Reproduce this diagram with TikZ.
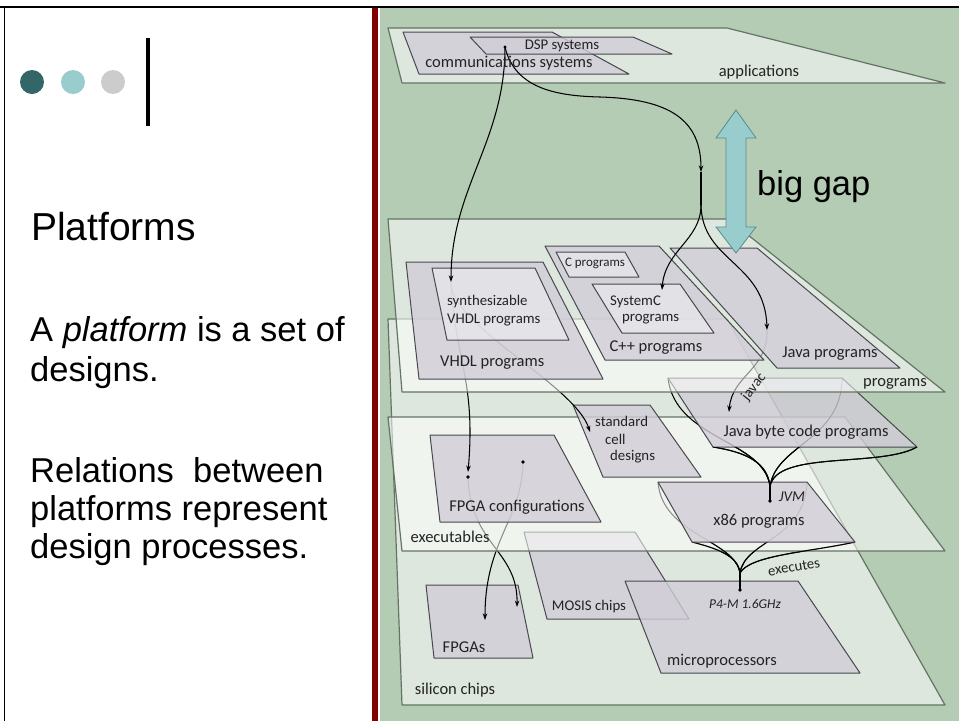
\documentclass[tikz,border=0pt]{standalone}
\usepackage{fontspec}
\setmainfont{Liberation Sans}
\newfontfamily\diagfont{Carlito}
\usetikzlibrary{arrows.meta}

\definecolor{sage}{RGB}{180,203,180}
\definecolor{planeedge}{RGB}{100,116,100}
\definecolor{boxfill}{RGB}{209,205,215}
\definecolor{boxedge}{RGB}{72,72,78}
\definecolor{gapfill}{RGB}{153,204,204}
\definecolor{gapedge}{RGB}{90,140,140}
\definecolor{darkred}{RGB}{128,0,0}
\definecolor{dotA}{RGB}{51,102,102}
\definecolor{dotB}{RGB}{153,204,204}
\definecolor{dotC}{RGB}{204,204,204}
\definecolor{labelgray}{RGB}{35,35,35}

\tikzset{
  plane/.style={fill=white, fill opacity=0.55, draw=planeedge, line width=1.2pt, line join=round},
  platebox/.style={fill=boxfill, fill opacity=0.8, draw=boxedge, line width=1pt, line join=round},
  innerbox/.style={fill=white, fill opacity=0.35, draw=boxedge, line width=1pt, line join=round},
  wire/.style={draw=black, line width=1.05pt},
  wirearrow/.style={wire, -{Stealth[length=6.5pt,width=4.5pt]}},
  knot/.style={circle, fill=black, inner sep=0pt, minimum size=3.8pt},
  bullet/.style={circle, inner sep=0pt, minimum size=24pt},
  lbl/.style={font=\diagfont\fontsize{16.5}{19}\selectfont, text=labelgray, inner sep=0pt},
  lbls/.style={font=\diagfont\fontsize{14.8}{17}\selectfont, text=labelgray, inner sep=0pt},
  lblxs/.style={font=\diagfont\fontsize{13}{15}\selectfont, text=labelgray, inner sep=0pt},
  body/.style={anchor=base west, inner sep=0pt, font=\fontsize{34.5}{40}\selectfont},
}

% curves from the byte code box down to the JVM point
\newcommand\jvmpaths{%
  \draw[wire] (bcTL) .. controls (675,440) and (765,440) .. (jvmJoin);
  \draw[wire] (bcBL) .. controls (745,452) and (768,462) .. (jvmJoin);
  \draw[wire] (bcTR) .. controls (842,440) and (775,445) .. (jvmJoin);
  \draw[wire] (bcBR) .. controls (880,468) and (775,450) .. (jvmJoin);
  \draw[wire] (jvmJoin) -- (jvm);
}
% curves from the x86 box down to the processor
\newcommand\execpaths{%
  \draw[wire] (xTL) .. controls (662,535) and (735,540) .. (exJoin);
  \draw[wire] (xBL) .. controls (715,548) and (738,555) .. (exJoin);
  \draw[wire] (xTR) .. controls (805,540) and (745,540) .. (exJoin);
  \draw[wire] (xBR) .. controls (810,552) and (750,555) .. (exJoin);
  \draw[wire] (exJoin) -- (p4m);
}

\begin{document}
\begin{tikzpicture}[x=1pt,y=-1pt]
\useasboundingbox (0,0) rectangle (959,721);
\fill[white] (0,0) rectangle (959,721);

% ---------- slide frame ----------
\fill[sage] (380,8) rectangle (959,721);
\fill[darkred] (372,8) rectangle (378.3,721);
\draw[line width=2pt] (0,7) -- (959,7);
\draw[line width=1.6pt] (4.5,7) -- (4.5,721);

% ---------- left column ----------
\node[bullet, fill=dotA] (b1) at (32,82) {};
\node[bullet, fill=dotB] (b2) at (73,82) {};
\node[bullet, fill=dotC] (b3) at (113,82) {};
\draw[line width=3.5pt] (148,38) -- (148,126);

\node[anchor=base west, inner sep=0pt, font=\fontsize{39}{44}\selectfont] (title) at (31,240) {Platforms};
\node[body] (l1) at (30,341) {A \textit{platform} is a set of};
\node[body] (l2) at (30,381) {designs.};
\node[body] (l3) at (30,482) {Relations\ \ between};
\node[body] (l4) at (30,520) {platforms represent};
\node[body] (l5) at (30,558) {design processes.};

% ---------- named points ----------
\coordinate (dsp) at (505,47);
\coordinate (synthTip) at (451,282);
\coordinate (gapMid) at (701,172);
\coordinate (fork) at (701,205);
\coordinate (scTip) at (662,290);
\coordinate (javaTip) at (767,330);
\coordinate (bcTip) at (729,412);
\coordinate (cellTip) at (590,432);
\coordinate (fcTip) at (468,472);
\coordinate (fcL) at (468,477);
\coordinate (fcR) at (523,462);
\coordinate (fpgaTipR) at (517,607);
\coordinate (fpgaTipL) at (485,620);
\coordinate (jvmJoin) at (770,487);
\coordinate (jvm) at (770,501);
\coordinate (exJoin) at (740,573);
\coordinate (p4m) at (740,590);
\coordinate (bcTL) at (668,378);
\coordinate (bcTR) at (842,378);
\coordinate (bcBR) at (917,447);
\coordinate (bcBL) at (713,447);
\coordinate (xTL) at (658,482);
\coordinate (xTR) at (807,482);
\coordinate (xBR) at (855,542);
\coordinate (xBL) at (692,542);

% ---------- silicon chips ----------
\draw[plane] (388,319) -- (727,319) -- (945,705) -- (402,705) -- cycle;
\draw[platebox] (426,585) -- (518,585) -- (533,658) -- (434,658) -- cycle;
\draw[platebox] (524,532) -- (635,532) -- (689,619) -- (547,619) -- cycle;
\draw[platebox] (625,581) -- (798,581) -- (860,673) -- (661,673) -- cycle;

% mappings from executables to chips
\draw[wirearrow] (fcL) .. controls (470,545) and (518,550) .. (fpgaTipR);
\draw[wirearrow] (fcR) .. controls (522,520) and (485,540) .. (fpgaTipL);
\execpaths

% ---------- executables ----------
\draw[plane] (388,417) -- (845,417) -- (945,551) -- (402,551) -- cycle;
\begin{scope}
  \clip (640,542) rectangle (900,600);
  \execpaths
\end{scope}
\jvmpaths
\draw[platebox] (573,405) -- (650,405) -- (701,477) -- (603,477) -- cycle;
\draw[platebox] (430,435) -- (554,435) -- (601,522) -- (440,522) -- cycle;
\draw[platebox] (bcTL) -- (bcTR) -- (bcBR) -- (bcBL) -- cycle;
\draw[platebox] (xTL) -- (xTR) -- (xBR) -- (xBL) -- cycle;
\begin{scope}
  \clip (640,447) rectangle (930,512);
  \jvmpaths
\end{scope}

% mappings from programs to executables
\draw[wirearrow] (synthTip) .. controls (455,360) and (476,380) .. (fcTip);
\draw[wirearrow] (synthTip) .. controls (450,325) and (575,385) .. (cellTip);
\draw[wirearrow] (javaTip) .. controls (768,370) and (732,375) .. (bcTip);
\node[knot] (fcLdot) at (fcL) {};
\node[knot] (fcRdot) at (fcR) {};

% ---------- programs ----------
\draw[plane] (388,219) -- (728,219) -- (945,392) -- (402,392) -- cycle;
\draw[platebox] (406,262) -- (543,262) -- (603,379) -- (419,379) -- cycle;
\draw[innerbox] (432,268) -- (535,268) -- (569,340) -- (447,340) -- cycle;
\draw[platebox] (545,246) -- (659,246) -- (764,360) -- (605,360) -- cycle;
\draw[innerbox] (556,252) -- (625,252) -- (639,277) -- (569,277) -- cycle;
\draw[innerbox] (592,284) -- (680,284) -- (714,333) -- (622,333) -- cycle;
\draw[platebox] (670,248) -- (757,248) -- (900,368) -- (777,368) -- cycle;

% ---------- applications ----------
\draw[plane] (388,28) -- (727,28) -- (945,83) -- (402,83) -- cycle;
\draw[platebox] (403,32) -- (552,32) -- (629,74) -- (419,74) -- cycle;
\draw[platebox] (470,37) -- (633,37) -- (672,54) -- (486,54) -- cycle;

% mappings from applications to programs
\draw[wirearrow] (dsp) .. controls (505,141) and (451,188) .. (synthTip);
\draw[wirearrow] (dsp) .. controls (515,90) and (560,96) .. (600,97)
                       .. controls (670,99) and (701,120) .. (gapMid);
\draw[wire] (gapMid) -- (fork);
\draw[wirearrow] (fork) .. controls (701,240) and (665,250) .. (scTip);
\draw[wirearrow] (fork) .. controls (702,262) and (765,262) .. (javaTip);
\node[knot, minimum size=3.4pt] (dspdot) at (dsp) {};

% ---------- the big gap ----------
\draw[fill=gapfill, draw=gapedge, line width=0.8pt, line join=miter]
  (736,110) -- (756,138) -- (746,138) -- (746,227) -- (756,227) -- (736,253)
  -- (716,227) -- (726,227) -- (726,138) -- (716,138) -- cycle;
\node[anchor=base west, inner sep=0pt, font=\fontsize{34.5}{40}\selectfont] (tGap) at (757,195) {big gap};

% ---------- dots ----------
\node[knot] (jvmdot) at (jvm) {};
\node[knot] (p4mdot) at (p4m) {};

% ---------- labels ----------
\node[lbls] (tDSP) at (562,46) {DSP systems};
\node[lbl] (tComm) at (509,63) {communications systems};
\node[lbl] (tApp) at (759,72) {applications};
\node[lbls, anchor=west] (tSyn1) at (447,302) {synthesizable};
\node[lbls, anchor=west] (tSyn2) at (447,320) {VHDL programs};
\node[lbl, anchor=west] (tVhdl) at (440,363) {VHDL programs};
\node[lblxs] (tC) at (595,263) {C programs};
\node[lbls, anchor=west] (tSc1) at (610,302) {SystemC};
\node[lbls, anchor=west] (tSc2) at (622,319) {programs};
\node[lbl] (tCpp) at (656,348) {C++ programs};
\node[lbl] (tJava) at (830,354) {Java programs};
\node[lbl] (tProg) at (895,384) {programs};
\node[lbls, rotate=52] (tJavac) at (754,387) {javac};
\node[lbl] (tBc) at (806,432) {Java byte code programs};
\node[lbls, anchor=west] (tStd1) at (595,421) {standard};
\node[lbls, anchor=west] (tStd2) at (605,439) {cell};
\node[lbls, anchor=west] (tStd3) at (610,457) {designs};
\node[lbls, font=\diagfont\itshape\fontsize{15}{17}\selectfont] (tJvm) at (792,497) {JVM};
\node[lbl] (tX86) at (759,521) {x86 programs};
\node[lbl] (tFc) at (517,507) {FPGA configurations};
\node[lbl] (tExe) at (450,537) {executables};
\node[lbls, rotate=10] (tExec) at (794,567) {executes};
\node[lblxs, font=\diagfont\itshape\fontsize{13.5}{15}\selectfont] (tP4) at (745,604) {P4-M 1.6GHz};
\node[lbls] (tMosis) at (589,607) {MOSIS chips};
\node[lbl] (tFpga) at (464,647) {FPGAs};
\node[lbl] (tMicro) at (722,661) {microprocessors};
\node[lbl] (tSil) at (455,690) {silicon chips};
\end{tikzpicture}
\end{document}
